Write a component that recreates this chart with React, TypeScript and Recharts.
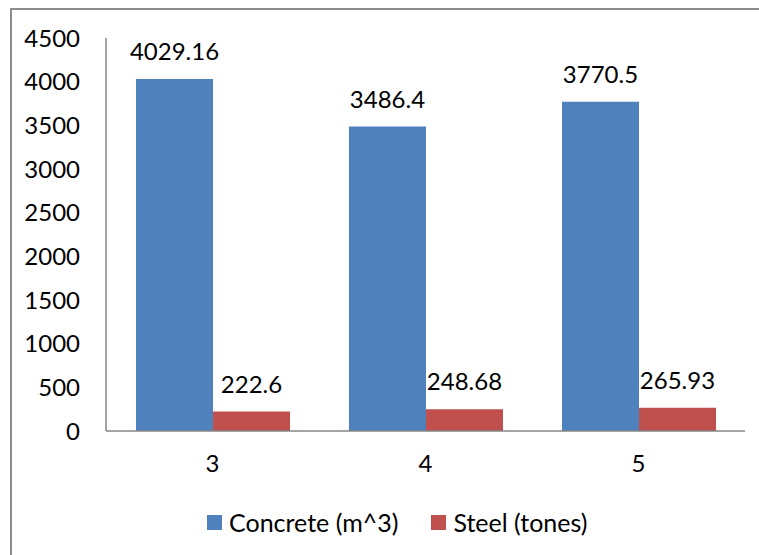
import React from 'react';
import { BarChart, Bar, XAxis, YAxis, Legend, LabelList } from 'recharts';

// values
const categories = ['3', '4', '5'];
const concrete = [4029.16, 3486.4, 3770.5];
const steel = [222.6, 248.68, 265.93];
const yTicks = [0, 500, 1000, 1500, 2000, 2500, 3000, 3500, 4000, 4500];

const seriesNames = { concrete: 'Concrete (m^3)', steel: 'Steel (tones)' };
const BLUE = '#4F81BD';
const RED = '#C0504D';
const AXIS = '#868686';
const FONT = 'Lato, "Liberation Sans", sans-serif';

const data = categories.map((c, i) => ({
  name: c,
  concrete: concrete[i],
  steel: steel[i],
}));

const LegendBox: React.FC = () => (
  <div style={{ display: 'flex', alignItems: 'center', fontFamily: FONT, fontSize: 25, color: '#000' }}>
    <span style={{ width: 15, height: 15, background: BLUE, display: 'inline-block', marginRight: 7 }} />
    <span style={{ marginRight: 33 }}>{seriesNames.concrete}</span>
    <span style={{ width: 15, height: 15, background: RED, display: 'inline-block', marginRight: 7 }} />
    <span>{seriesNames.steel}</span>
  </div>
);

export default function App() {
  return (
    <div style={{ position: 'fixed', left: 0, top: 0, width: 759, height: 555, background: '#fff', overflow: 'hidden' }}>
      <div
        style={{
          position: 'absolute',
          left: 10,
          top: 8,
          width: 900,
          height: 700,
          borderLeft: '2px solid #8c8c8c',
          borderTop: '2px solid #8c8c8c',
          boxSizing: 'border-box',
        }}
      />
      <div style={{ position: 'absolute', left: 0, top: 0 }}>
        <BarChart
          width={759}
          height={555}
          data={data}
          margin={{ top: 38, right: 14, left: 46, bottom: 94 }}
          barGap={0}
        >
          <XAxis
            dataKey="name"
            height={30}
            tickLine={false}
            tickSize={0}
            tickMargin={24}
            axisLine={{ stroke: AXIS, strokeWidth: 1.5 }}
            tick={{ fill: '#000', fontSize: 24, fontFamily: FONT }}
          />
          <YAxis
            width={60}
            domain={[0, 4500]}
            ticks={yTicks}
            interval={0}
            tickLine={false}
            tickSize={0}
            tickMargin={26}
            axisLine={{ stroke: AXIS, strokeWidth: 1.5 }}
            tick={{ fill: '#000', fontSize: 24, fontFamily: FONT }}
          />
          <Legend
            verticalAlign="middle"
            align="center"
            layout="horizontal"
            wrapperStyle={{ position: 'absolute', top: 507, left: 207, width: 'auto' }}
            content={<LegendBox />}
          />
          <Bar dataKey="concrete" name={seriesNames.concrete} fill={BLUE} barSize={77} isAnimationActive={false}>
            <LabelList dataKey="concrete" position="top" offset={19} fill="#000" fontSize={24} fontFamily={FONT} />
          </Bar>
          <Bar dataKey="steel" name={seriesNames.steel} fill={RED} barSize={77} isAnimationActive={false}>
            <LabelList dataKey="steel" position="top" offset={19} fill="#000" fontSize={24} fontFamily={FONT} />
          </Bar>
        </BarChart>
      </div>
    </div>
  );
}
